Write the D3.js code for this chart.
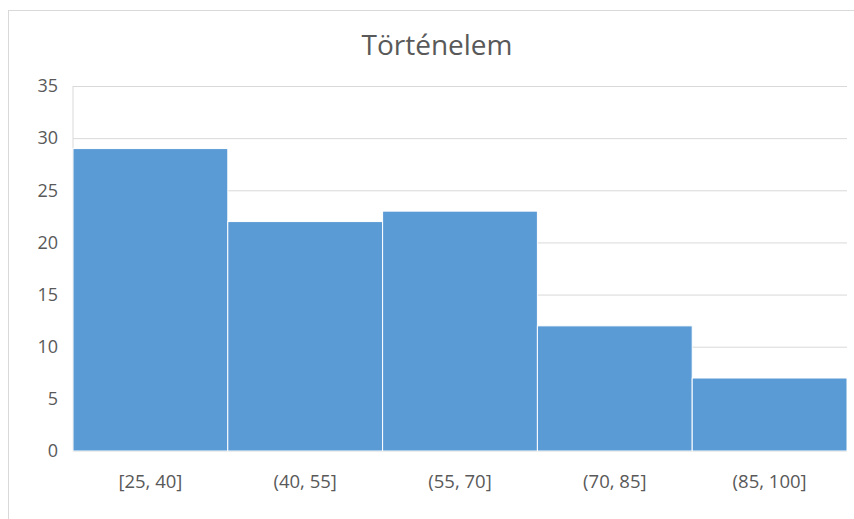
<!DOCTYPE html>
<html>
<head>
<meta charset="utf-8">
<script src="https://cdn.jsdelivr.net/npm/d3@7"></script>
<style>
  body { margin: 0; background: #fff; }
  text { font-family: "Open Sans", "Liberation Sans", sans-serif; fill: #595959; }
</style>
</head>
<body>
<svg width="854" height="519"></svg>
<script>
var categories = ["[25, 40]", "(40, 55]", "(55, 70]", "(70, 85]", "(85, 100]"];
var counts = [29, 22, 23, 12, 7];
var yTicks = [0, 5, 10, 15, 20, 25, 30, 35];
var title = "Történelem";

var svg = d3.select("svg"),
    margin = {top: 86, right: 7, bottom: 68, left: 73},
    width = +svg.attr("width") - margin.left - margin.right,
    height = +svg.attr("height") - margin.top - margin.bottom;

// outer chart frame
svg.append("rect")
    .attr("x", 8.5).attr("y", 10.5)
    .attr("width", 860).attr("height", 520)
    .attr("fill", "none").attr("stroke", "#d9d9d9");

svg.append("text")
    .attr("x", 437).attr("y", 55)
    .attr("text-anchor", "middle")
    .style("font-size", "28px")
    .text(title);

var x = d3.scaleBand().domain(categories).range([0, width]).padding(0),
    y = d3.scaleLinear().domain([0, 35]).range([height, 0]);

var g = svg.append("g")
    .attr("transform", "translate(" + margin.left + "," + margin.top + ")");

// gridlines
g.append("g")
    .call(d3.axisLeft(y).tickValues(yTicks).tickSize(-width).tickFormat(""))
    .call(function(s) {
      s.select(".domain").remove();
      s.selectAll(".tick line").attr("stroke", "#d9d9d9");
    });

// left axis line
g.append("line")
    .attr("x1", 0).attr("x2", 0).attr("y1", 0).attr("y2", height)
    .attr("stroke", "#d9d9d9");

g.selectAll(".bar")
    .data(counts)
    .enter().append("rect")
      .attr("class", "bar")
      .attr("x", function(d, i) { return x(categories[i]); })
      .attr("y", function(d) { return y(d); })
      .attr("width", x.bandwidth())
      .attr("height", function(d) { return height - y(d); })
      .attr("fill", "#5b9bd5")
      .attr("stroke", "#fff")
      .attr("stroke-width", 1);

g.append("g")
    .attr("transform", "translate(0," + height + ")")
    .call(d3.axisBottom(x).tickSize(0).tickPadding(24))
    .call(function(s) {
      s.select(".domain").remove();
      s.selectAll("text").style("font-size", "18.5px").attr("fill", "#595959");
    });

g.append("g")
    .call(d3.axisLeft(y).tickValues(yTicks).tickSize(0).tickPadding(15))
    .call(function(s) {
      s.select(".domain").remove();
      s.selectAll("text").style("font-size", "18px").attr("fill", "#595959");
    });
</script>
</body>
</html>
